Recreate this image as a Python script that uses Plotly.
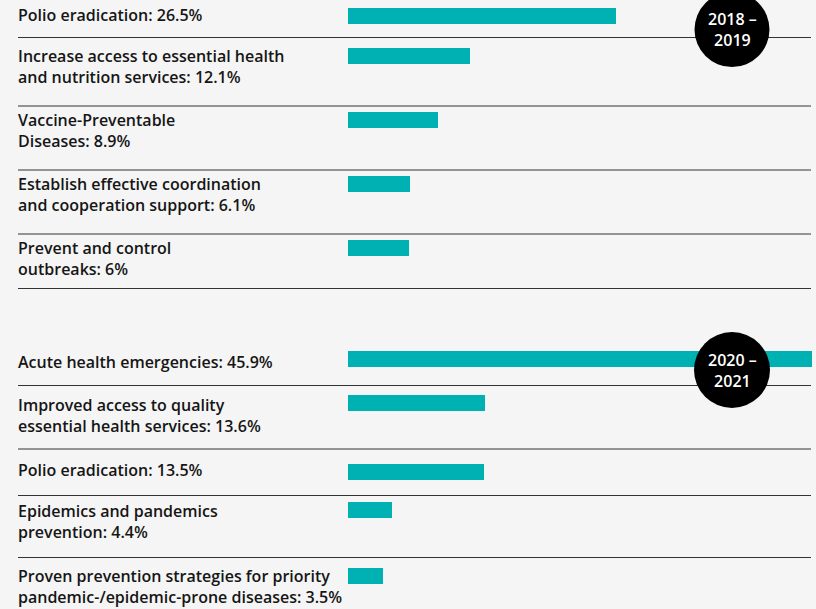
import plotly.graph_objects as go

# ---------------- data ----------------
period_1 = "2018 –<br>2019"
labels_1819 = [
    "Polio eradication: 26.5%",
    "Increase access to essential health<br>and nutrition services: 12.1%",
    "Vaccine-Preventable<br>Diseases: 8.9%",
    "Establish effective coordination<br>and cooperation support: 6.1%",
    "Prevent and control<br>outbreaks: 6%",
]
values_1819 = [26.5, 12.1, 8.9, 6.1, 6.0]

period_2 = "2020 –<br>2021"
labels_2021 = [
    "Acute health emergencies: 45.9%",
    "Improved access to quality<br>essential health services: 13.6%",
    "Polio eradication: 13.5%",
    "Epidemics and pandemics<br>prevention: 4.4%",
    "Proven prevention strategies for priority<br>pandemic-/epidemic-prone diseases: 3.5%",
]
values_2021 = [45.9, 13.6, 13.5, 4.4, 3.5]

# ---------------- layout (pixel geometry) ----------------
W, H = 816, 609
BG = "#f5f5f5"
TEAL = "#00b1b3"
TEXT = "#161616"
FONT = "Open Sans"
X0_PX = 348          # pixel where 0% starts
PX_PER_PCT = 10.1    # pixels per percentage point
LABEL_X_PX = 16
LINE_X0_PX = 18
LINE_X1_PX = 811
LINE_H = 21

bar_y_1 = [16, 56, 120, 184, 248]
text_y_1 = [14.5, 55.5, 119.5, 183.5, 247.5]
seps_1 = [37.5, 106, 170, 234, 288.5]
bar_y_2 = [359, 403, 472, 510, 576]
text_y_2 = [361.5, 405, 469.5, 511, 576]
seps_2 = [385.5, 449, 495.5, 557.5]
circles = [(732, 29.5, 37.5, period_1), (732, 370, 38, period_2)]

fig = go.Figure()
for vals, cents in [(values_1819, bar_y_1), (values_2021, bar_y_2)]:
    fig.add_trace(go.Bar(
        x=vals, y=cents, orientation="h", width=16, base=0,
        marker=dict(color=TEAL, line=dict(width=0)),
        hoverinfo="skip", showlegend=False,
    ))

annotations = []
for labels, tys in [(labels_1819, text_y_1), (labels_2021, text_y_2)]:
    for lab, ty in zip(labels, tys):
        for i, part in enumerate(lab.split("<br>")):
            annotations.append(dict(
                x=LABEL_X_PX / W, xref="paper", xanchor="left",
                y=ty + i * LINE_H, yref="y", yanchor="middle",
                text=part, showarrow=False,
                font=dict(family=FONT, size=16, color=TEXT, weight=600),
            ))

shapes = []
for y in seps_1 + seps_2:
    shapes.append(dict(type="line", xref="paper", yref="y",
                       x0=LINE_X0_PX / W, x1=LINE_X1_PX / W, y0=y, y1=y,
                       line=dict(color="#333333", width=1)))
for cx, cy, r, txt in circles:
    shapes.append(dict(type="circle", xref="paper", yref="y",
                       x0=(cx - r) / W, x1=(cx + r) / W, y0=cy - r, y1=cy + r,
                       fillcolor="#000000", line=dict(width=0)))
    annotations.append(dict(
        x=cx / W, xref="paper", xanchor="center",
        y=cy, yref="y", yanchor="middle",
        text=txt, showarrow=False,
        font=dict(family=FONT, size=16, color="#ffffff", weight=600),
    ))

fig.update_layout(
    width=W, height=H,
    margin=dict(l=0, r=0, t=0, b=0),
    paper_bgcolor=BG, plot_bgcolor=BG,
    xaxis=dict(range=[-X0_PX / PX_PER_PCT, (W - X0_PX) / PX_PER_PCT],
               visible=False, fixedrange=True),
    yaxis=dict(range=[H, 0], visible=False, fixedrange=True),
    shapes=shapes, annotations=annotations,
    bargap=0,
)

fig.write_html("out.html")
